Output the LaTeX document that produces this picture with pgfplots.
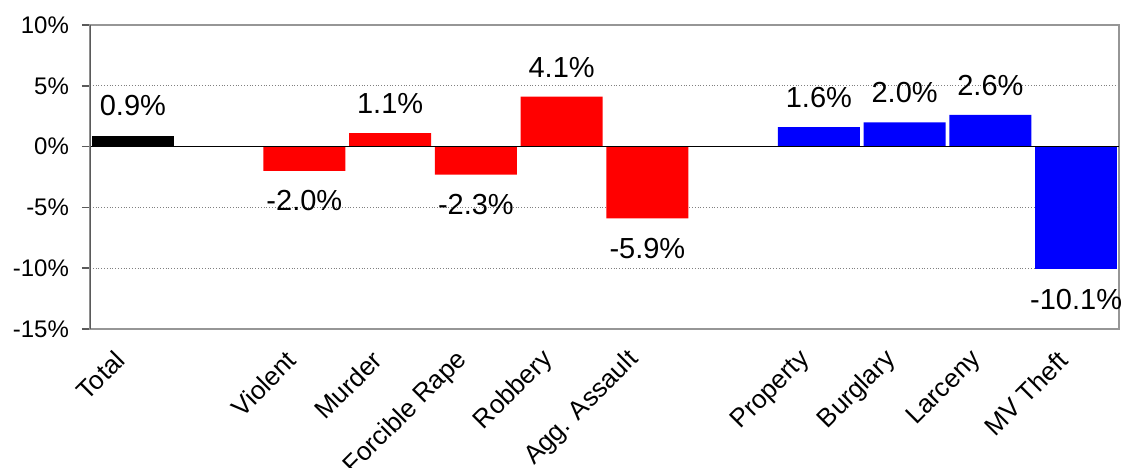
\documentclass[border=0pt]{standalone}
\usepackage{fontspec}
\setmainfont{Liberation Sans}
\usepackage{pgfplots}
\pgfplotsset{compat=1.18}
\definecolor{frame}{RGB}{150,150,150}
\definecolor{spine}{RGB}{90,90,90}
\begin{document}
\begin{tikzpicture}
\begin{axis}[
 scale only axis, width=514.5pt, height=152pt,
 xmin=-0.5, xmax=11.5, ymin=-15, ymax=10,
 ybar, bar width=41pt, bar shift=0pt,
 xtick={0,2,3,4,5,6,8,9,10,11},
 xticklabels={Total,Violent,Murder,Forcible Rape,Robbery,Agg. Assault,Property,Burglary,Larceny,MV Theft},
 x tick style={draw=none},
 ytick={-15,-10,...,10},
 yticklabel={\pgfmathprintnumber{\tick}\%},
 /pgf/number format/assume math mode=true,
 yticklabel style={font=\fontsize{12}{14}\selectfont, xshift=-3pt},
 xticklabel style={font=\fontsize{13}{15}\selectfont, xshift=-4pt, yshift=-7pt, rotate=45, anchor=east},
 ymajorgrids, grid style={densely dotted, gray, line width=0.5pt},
 axis line style={draw=frame, line width=0.75pt},
 y tick style={draw=spine, line width=0.75pt},
 tick align=outside, major tick length=4pt,
 ytick pos=left,
 nodes near coords={\pgfmathprintnumber[fixed,fixed zerofill,precision=1]{\pgfplotspointmeta}\%},
 every node near coord/.append style={font=\fontsize{14.5}{16}\selectfont, inner sep=0pt, text=black},
]
\addplot[ybar, bar shift=0pt, fill=black, draw=none, every node near coord/.append style={anchor=south, yshift=9.5pt}] coordinates {(0,0.9)};
\addplot[ybar, bar shift=0pt, fill=red, draw=none, every node near coord/.append style={anchor=south, yshift=9.5pt}] coordinates {(3,1.1) (5,4.1)};
\addplot[ybar, bar shift=0pt, fill=red, draw=none, every node near coord/.append style={anchor=north, yshift=-9.7pt}] coordinates {(2,-2.0) (4,-2.3) (6,-5.9)};
\addplot[ybar, bar shift=0pt, fill=blue, draw=none, every node near coord/.append style={anchor=south, yshift=9.5pt}] coordinates {(8,1.6) (9,2.0) (10,2.6)};
\addplot[ybar, bar shift=0pt, fill=blue, draw=none, every node near coord/.append style={anchor=north, yshift=-9.7pt}] coordinates {(11,-10.1)};
\draw[black, line width=0.5pt] (axis cs:-0.5,0) -- (axis cs:11.5,0);
\draw[spine, line width=0.75pt] (rel axis cs:0,0) -- (rel axis cs:0,1);
\end{axis}
\pgfresetboundingbox
\useasboundingbox ([xshift=-45pt,yshift=-69.5pt]current axis.south west) rectangle ([xshift=1pt,yshift=12.5pt]current axis.north east);
\end{tikzpicture}
\end{document}
